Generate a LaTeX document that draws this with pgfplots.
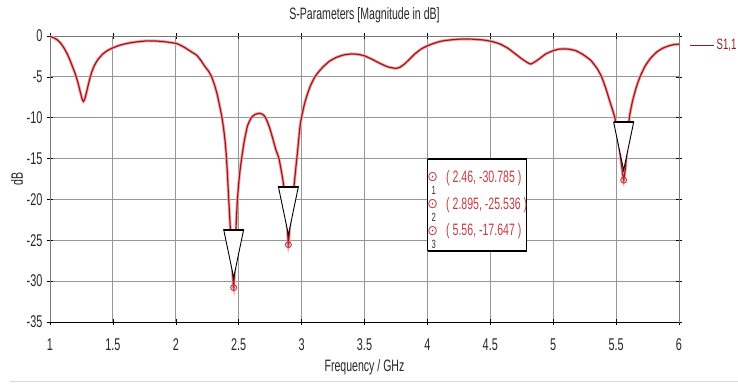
\documentclass[border=0pt]{standalone}
\usepackage{fontspec}
\setmainfont{Liberation Sans}[FakeStretch=0.64]
\newfontfamily\symfont{DejaVu Sans}[FakeStretch=0.9]
\usepackage{pgfplots}
\pgfplotsset{compat=1.18}
\definecolor{curve}{RGB}{160,22,28}
\definecolor{glow}{RGB}{240,170,170}
\definecolor{mred}{RGB}{200,60,65}
\definecolor{gridc}{RGB}{150,150,150}
\definecolor{vgridc}{RGB}{170,170,170}
\definecolor{axc}{RGB}{120,120,120}
\newcommand\f{\fontsize{16.5}{19}\selectfont}
\newcommand\ft{\fontsize{17}{19}\selectfont}
\newcommand\fs{\fontsize{12}{12}\selectfont}
\pgfdeclareplotmark{cst}{%
  \pgfsetlinewidth{0.9pt}%
  \pgfsetfillcolor{white}%
  \pgfsetstrokecolor{black}%
  \pgfpathmoveto{\pgfpoint{-10pt}{58pt}}%
  \pgfpathlineto{\pgfpoint{10pt}{58pt}}%
  \pgfpathlineto{\pgfpoint{0pt}{10pt}}%
  \pgfpathclose
  \pgfusepath{fill,stroke}%
  \pgfsetlinewidth{2pt}%
  \pgfpathmoveto{\pgfpoint{-10pt}{58pt}}%
  \pgfpathlineto{\pgfpoint{10pt}{58pt}}%
  \pgfusepath{stroke}%
}
\pgfplotstableread{
f db
1.00 -0.05
1.02 -0.15
1.04 -0.3
1.06 -0.5
1.08 -0.8
1.10 -1.2
1.12 -1.7
1.14 -2.3
1.16 -3.0
1.18 -3.8
1.20 -4.6
1.22 -5.6
1.24 -6.8
1.255 -7.7
1.265 -8.0
1.275 -7.8
1.29 -6.9
1.31 -5.6
1.33 -4.5
1.35 -3.7
1.38 -2.9
1.42 -2.2
1.46 -1.75
1.50 -1.45
1.55 -1.15
1.60 -0.95
1.65 -0.8
1.70 -0.7
1.77 -0.6
1.85 -0.62
1.92 -0.72
2.00 -0.9
2.033 -1.1
2.07 -1.4
2.10 -1.7
2.13 -2.0
2.166 -2.35
2.20 -3.0
2.23 -3.7
2.26 -4.3
2.285 -5.0
2.31 -6.1
2.33 -7.2
2.35 -8.65
2.365 -9.8
2.378 -11.1
2.39 -12.6
2.40 -14.3
2.41 -16.8
2.42 -19.8
2.435 -24.0
2.45 -28.5
2.46 -30.785
2.47 -27.5
2.48 -23.0
2.49 -20.0
2.505 -17.2
2.523 -15.0
2.545 -12.8
2.57 -11.0
2.60 -10.0
2.63 -9.6
2.669 -9.46
2.70 -9.7
2.72 -10.2
2.745 -11.2
2.77 -12.5
2.795 -13.9
2.82 -15.0
2.85 -17.5
2.87 -20.0
2.885 -23.0
2.895 -25.536
2.905 -23.5
2.92 -21.0
2.94 -18.3
2.955 -16.0
2.97 -13.8
2.987 -11.1
3.00 -9.9
3.02 -8.5
3.04 -7.4
3.07 -6.1
3.106 -5.0
3.14 -4.3
3.173 -3.75
3.22 -3.1
3.279 -2.6
3.34 -2.3
3.398 -2.2
3.45 -2.25
3.504 -2.45
3.56 -2.85
3.623 -3.35
3.68 -3.75
3.716 -3.88
3.75 -3.96
3.78 -3.84
3.82 -3.4
3.86 -2.8
3.90 -2.2
3.95 -1.6
4.00 -1.2
4.06 -0.85
4.12 -0.6
4.20 -0.45
4.26 -0.38
4.35 -0.38
4.45 -0.5
4.52 -0.7
4.58 -1.0
4.64 -1.5
4.70 -2.2
4.76 -2.9
4.82 -3.43
4.88 -2.9
4.94 -2.2
5.00 -1.8
5.05 -1.6
5.12 -1.6
5.18 -1.8
5.24 -2.3
5.30 -3.0
5.35 -4.0
5.385 -5.0
5.42 -6.5
5.45 -8.0
5.49 -10.0
5.52 -13.0
5.545 -16.0
5.56 -17.647
5.575 -16.0
5.59 -13.0
5.605 -10.0
5.63 -8.0
5.66 -6.3
5.69 -5.0
5.73 -3.7
5.77 -2.8
5.82 -2.0
5.87 -1.5
5.92 -1.2
5.96 -1.05
6.00 -1.0
}\sone
\pgfplotstableread{
f db
2.46 -30.785
2.895 -25.536
5.56 -17.647
}\marks
\begin{document}
\begin{tikzpicture}
\begin{axis}[
  name=ax,
  scale only axis,
  width=629pt, height=286pt,
  xmin=1, xmax=6, ymin=-35, ymax=0,
  xtick={1,1.5,2,2.5,3,3.5,4,4.5,5,5.5,6},
  xticklabels={1,1.5,2,2.5,3,3.5,4,4.5,5,5.5,6},
  ytick={-35,-30,-25,-20,-15,-10,-5,0},
  yticklabels={-35,-30,-25,-20,-15,-10,-5,0},
  xmajorgrids=true, ymajorgrids=true,
  major grid style={solid, draw=gridc, line width=0.9pt},
  font=\f,
  tick label style={font=\ft, text=black!85},
  xticklabel style={anchor=center, yshift=-20pt},
  yticklabel style={anchor=east, xshift=-1pt},
  title={S-Parameters [Magnitude in dB]},
  title style={anchor=center, at={(0.5,1)}, yshift=15pt, text=black!85, font=\f},
  xlabel={Frequency / GHz},
  xlabel style={anchor=center, at={(0.5,0)}, yshift=-45pt, text=black!85, font=\f},
  ylabel={dB},
  ylabel style={anchor=center, at={(axis description cs:-0.0525,0.5)}, text=black!85, font=\f},
  axis line style={axc, line width=0.8pt},
  major tick length=6pt, tick align=center,
  tick style={black, line width=0.6pt},
  legend style={draw=none, fill=none, at={(1,0.967)}, anchor=west, xshift=10pt,
    font=\fontsize{15}{17}\selectfont, text=curve, inner sep=0pt,
    /tikz/every even column/.append style={column sep=0pt}},
  legend image code/.code={\draw[curve, line width=1.4pt] (0pt,0pt) -- (24pt,0pt);},
]
\addplot[glow, line width=3pt, smooth, tension=0.3, forget plot] table[x=f,y=db] {\sone};
\addplot[curve, line width=1.2pt, smooth, tension=0.3] table[x=f,y=db] {\sone};
\addlegendentry{S1,1}
\addplot[only marks, mark=cst, forget plot] table[x=f,y=db] {\marks};
\addplot[only marks, mark=o, mark size=3pt, mark options={mred, line width=1pt}, forget plot] table[x=f,y=db] {\marks};
\addplot[only marks, mark=*, mark size=0.8pt, mark options={mred}, forget plot] table[x=f,y=db] {\marks};
\node[text=black!75, font=\f] at (axis cs:2.46,-30.785) [yshift=45pt] {1};
\node[text=black!75, font=\f] at (axis cs:2.895,-25.536) [yshift=45pt] {2};
\node[text=black!75, font=\f] at (axis cs:5.56,-17.647) [yshift=45pt] {3};
\draw[black, line width=1pt] (rel axis cs:0,0) -- (rel axis cs:1,0);
% marker label box
\filldraw[fill=white, draw=black, line width=0.8pt] (axis cs:4.002,-15.09) rectangle (axis cs:4.789,-26.28);
\draw[black, line width=2pt] (axis cs:4.002,-15.09) -- (axis cs:4.789,-15.09);
\draw[black, line width=2pt] (axis cs:4.002,-26.28) -- (axis cs:4.789,-26.28);
\node[inner sep=0pt, text=mred, font=\symfont\fontsize{14}{14}\selectfont] at (axis cs:4.042,-17.3) {⊙};
\node[inner sep=0pt, text=black!80, font=\fs] at (axis cs:4.05,-18.95) {1};
\node[anchor=west, inner sep=0pt, text=mred, font=\f] at (axis cs:4.148,-17.42) {( 2.46, -30.785 )};
\node[inner sep=0pt, text=mred, font=\symfont\fontsize{14}{14}\selectfont] at (axis cs:4.042,-20.56) {⊙};
\node[inner sep=0pt, text=black!80, font=\fs] at (axis cs:4.05,-22.21) {2};
\node[anchor=west, inner sep=0pt, text=mred, font=\f] at (axis cs:4.148,-20.68) {( 2.895, -25.536 )};
\node[inner sep=0pt, text=mred, font=\symfont\fontsize{14}{14}\selectfont] at (axis cs:4.042,-23.83) {⊙};
\node[inner sep=0pt, text=black!80, font=\fs] at (axis cs:4.05,-25.48) {3};
\node[anchor=west, inner sep=0pt, text=mred, font=\f] at (axis cs:4.148,-23.95) {( 5.56, -17.647 )};
\coordinate (O) at (rel axis cs:0,0);
\end{axis}
\draw[black!15, line width=1.2pt] ([shift={(-40pt,-59.5pt)}]O) -- ([shift={(688pt,-59.5pt)}]O);
\pgfresetboundingbox
\useasboundingbox ([shift={(-50pt,-61pt)}]O) rectangle ([shift={(688pt,322pt)}]O);
\end{tikzpicture}
\end{document}
